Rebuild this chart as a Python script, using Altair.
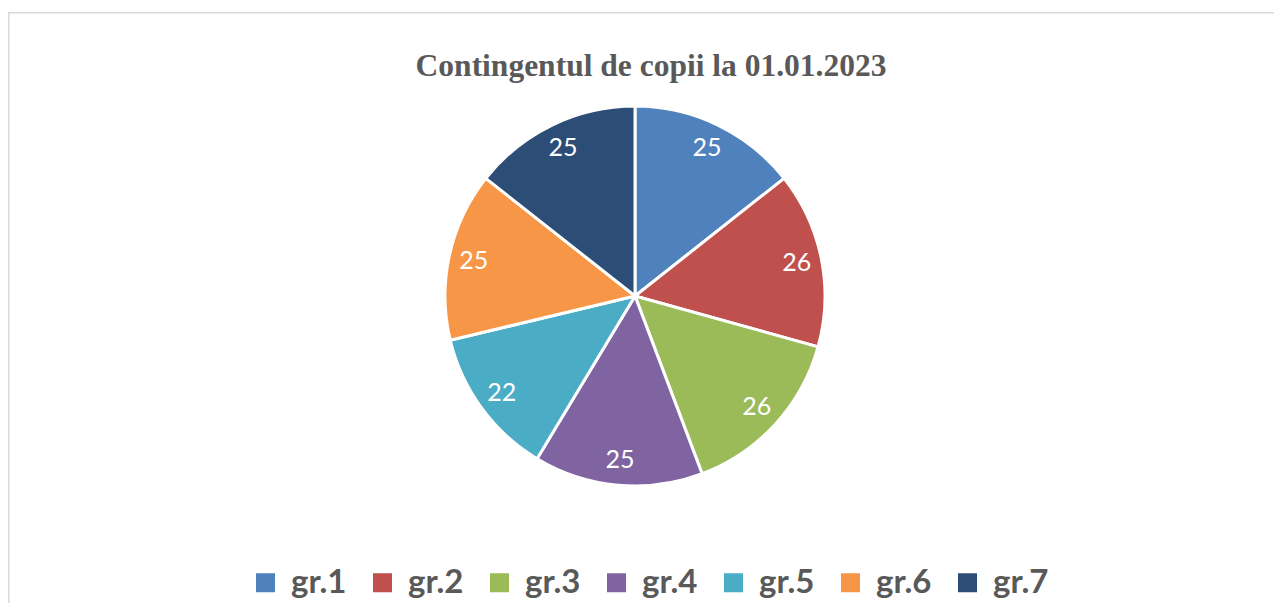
import altair as alt
import pandas as pd

groups = ["gr.1", "gr.2", "gr.3", "gr.4", "gr.5", "gr.6", "gr.7"]
values = [25, 26, 26, 25, 22, 25, 25]
colors = ["#4F81BD", "#C0504D", "#9BBB59", "#8064A2", "#4BACC6", "#F79646", "#2C4D75"]
title_text = "Contingentul de copii la 01.01.2023"

df = pd.DataFrame({"group": groups, "value": values, "idx": list(range(len(groups)))})

CX, CY = 627, 288

base = alt.Chart(df).encode(
    theta=alt.Theta("value:Q", stack=True),
    order=alt.Order("idx:Q"),
)

arcs = base.mark_arc(radius=190, stroke="white", strokeWidth=3).encode(
    x=alt.value(CX),
    y=alt.value(CY),
    color=alt.Color(
        "group:N",
        scale=alt.Scale(domain=groups, range=colors),
        legend=alt.Legend(
            title=None,
            orient="none",
            direction="horizontal",
            legendX=241,
            legendY=558,
            symbolType="square",
            symbolSize=361,
            symbolStrokeWidth=0,
            labelFont="Lato",
            labelFontSize=33,
            labelFontWeight="bold",
            labelColor="#595959",
            labelOffset=9,
            columnPadding=19,
        ),
    ),
)

labels = base.mark_text(radius=165, fontSize=25, font="Lato", color="white").encode(
    x=alt.value(CX),
    y=alt.value(CY),
    text="value:Q",
)

title = alt.Chart(pd.DataFrame({"t": [title_text]})).mark_text(
    font="Liberation Serif",
    fontSize=31.5,
    fontWeight="bold",
    color="#595959",
    align="center",
    baseline="alphabetic",
).encode(x=alt.value(643), y=alt.value(68), text="t:N")

frame = alt.Chart(pd.DataFrame({"a": [0]})).mark_rect(
    fillOpacity=0, stroke="#D9D9D9", strokeWidth=1.5
).encode(
    x=alt.value(0.75), x2=alt.value(1500), y=alt.value(4.75), y2=alt.value(800)
)

chart = alt.layer(frame, arcs, labels, title).properties(
    width=1266,
    height=595,
    autosize=alt.AutoSizeParams(type="none"),
    padding=0,
).configure_view(stroke=None)

chart.save("out.html", embed_options={"renderer": "svg", "actions": False})
